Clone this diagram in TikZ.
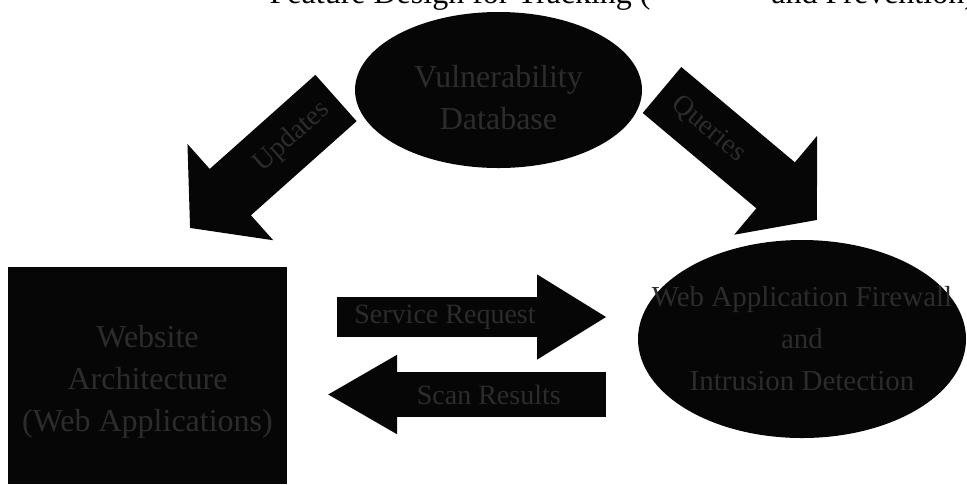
\documentclass[tikz,border=0pt]{standalone}
\usepackage{fontspec}
\setmainfont{Liberation Serif}
\usetikzlibrary{arrows.meta,positioning,calc,shapes.geometric}
\definecolor{InkBlack}{HTML}{060606}
\definecolor{ScanGray}{HTML}{2C2C2C}

\begin{document}
\begin{tikzpicture}[x=0.5pt,y=-0.5pt,
  blob/.style={fill=InkBlack,inner sep=0pt},
  blobtext/.style={text=ScanGray,align=center,inner sep=0pt,
               font=\fontsize{16}{21}\selectfont},
  fatarrow/.style={draw=InkBlack,line width=#1},
  tag/.style={text=ScanGray,font=\fontsize{14}{16}\selectfont,inner sep=0pt}]
\useasboundingbox (0,0) rectangle (967,484);

% caption cut off by the scan
\node[anchor=base east,font=\fontsize{16}{18}\selectfont,inner sep=0pt] (capl) at (651,3) {Feature Design for Tracking (};
\node[anchor=base west,font=\fontsize{16}{18}\selectfont,inner sep=0pt] (capr) at (771,3) {and Prevention)};

\node[blob,ellipse,minimum width=143.5pt,minimum height=78pt] (vdb) at (498.5,90) {};
\node[blobtext,below=0pt of vdb.center,anchor=center,yshift=-4pt] (vdbtxt) {Vulnerability\\Database};
\node[blob,rectangle,minimum width=139.5pt,minimum height=108.5pt] (site) at (147.5,375.5) {};
\node[blobtext] (sitetxt) at (147.5,382) {Website\\Architecture\\(Web Applications)};
\node[blob,ellipse,minimum width=164pt,minimum height=99pt] (waf) at (802,339) {};
\node[blobtext,font=\fontsize{14.5}{21}\selectfont] (waftxt) at (waf.center) {Web Application Firewall\\and\\Intrusion Detection};

\coordinate (lt) at (336,98);
\coordinate (lh) at (190,228);
\coordinate (rt) at (662,90);
\coordinate (rh) at (817,220);
\draw[fatarrow=31pt,-{Triangle[length=27pt,width=63pt]}] (lt) -- (lh)
  node[tag,pos=0.3,sloped] (upd) {Updates};
\draw[fatarrow=30pt,-{Triangle[length=27pt,width=63pt]}] (rt) -- (rh)
  node[tag,pos=0.3,sloped] (qry) {Queries};

\coordinate (ra) at (337,317);
\coordinate (rb) at (607,317);
\coordinate (la) at (606,394.5);
\coordinate (lb) at (327,394.5);
\draw[fatarrow=20pt,-{Triangle[length=35pt,width=40pt]}] (ra) -- (rb)
  node[tag,pos=0.4] (req) {Service Request};
\draw[fatarrow=22.5pt,-{Triangle[length=35pt,width=37pt]}] (la) -- (lb)
  node[tag,pos=0.42] (res) {Scan Results};
\end{tikzpicture}
\end{document}
